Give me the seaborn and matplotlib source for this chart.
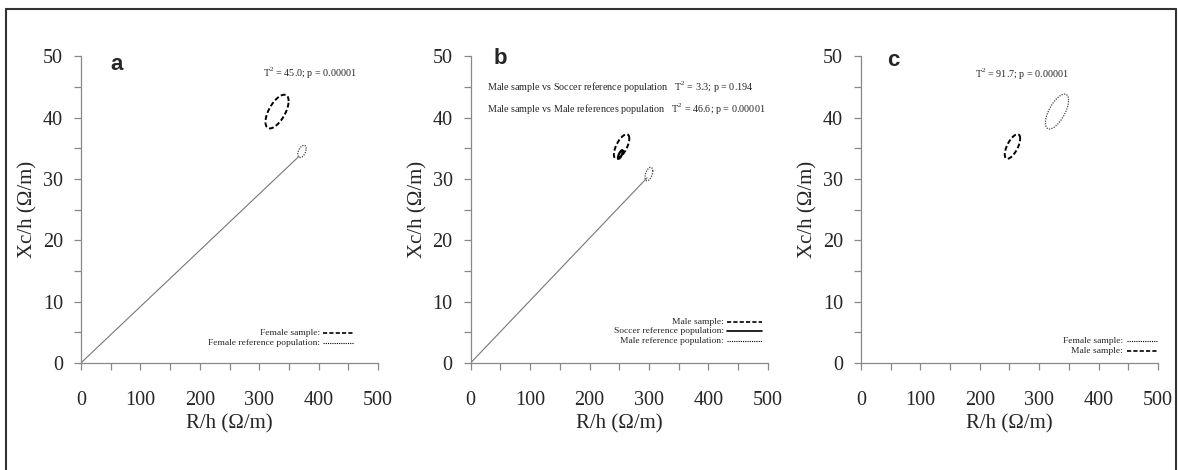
import numpy as np
import pandas as pd
import matplotlib
matplotlib.use("Agg")
import matplotlib.pyplot as plt
from matplotlib.lines import Line2D
from matplotlib.ticker import MultipleLocator
import seaborn as sns

# --- data (R/h, Xc/h in Ohm/m) ---
panels = ["a", "b", "c"]

# ellipse parameters: centre x, centre y, half-range x, half-range y, correlation
ell_names = ["Female sample", "Female reference population",
             "Male sample", "Soccer reference population", "Male reference population",
             "Female sample c", "Male sample c"]
ell_panel = ["a", "a", "b", "b", "b", "c", "c"]
ell_cx = [330, 372, 254, 252, 300, 330, 255]
ell_cy = [41.0, 34.5, 35.3, 34.0, 30.8, 41.0, 35.3]
ell_rx = [19.5, 7.0, 13.0, 4.0, 6.5, 19.5, 13.0]
ell_ry = [2.75, 1.0, 2.0, 0.7, 1.1, 2.85, 2.0]
ell_rho = [0.62, 0.45, 0.65, 0.75, 0.45, 0.65, 0.65]
ell_style = ["dashed", "dotted", "dashed", "solid", "dotted", "dotted", "dashed"]

# vector from origin to reference population mean
vec_panel = ["a", "b"]
vec_x = [367, 297]
vec_y = [33.7, 30.2]

stats_text = {
    "a": ["T$^2$ = 45.0; p = 0.00001"],
    "b": ["Male sample vs Soccer reference population   T$^2$ = 3.3; p = 0.194",
          "Male sample vs Male references population   T$^2$ = 46.6; p = 0.00001"],
    "c": ["T$^2$ = 91.7; p = 0.00001"],
}
legend_labels = {
    "a": ["Female sample:", "Female reference population:"],
    "b": ["Male sample:", "Soccer reference population:", "Male reference population:"],
    "c": ["Female sample:", "Male sample:"],
}
legend_styles = {
    "a": ["dashed", "dotted"],
    "b": ["dashed", "solid", "dotted"],
    "c": ["dotted", "dashed"],
}

# --- layout ---
sns.set_style("white")
plt.rcParams["font.family"] = ["Liberation Serif", "DejaVu Serif"]
plt.rcParams["mathtext.fontset"] = "custom"
plt.rcParams["mathtext.rm"] = "Liberation Serif"

fig = plt.figure(figsize=(11.78, 4.70), dpi=100)
lefts = [0.0688, 0.3996, 0.7309]
W, H, B = 0.2521, 0.652, 0.228

ls_map = {"dashed": (0, (2.5, 1.3)), "dotted": (0, (1, 1)), "solid": "-"}
lw_map = {"dashed": 1.4, "dotted": 0.9, "solid": 1.6}
col_map = {"dashed": "black", "dotted": "#444444", "solid": "black"}

letter_pos = {"a": (49, 48.7), "b": (39, 49.7), "c": (44, 49.3)}
stats_pos = {"a": [(385, 47.2)], "b": [(27.5, 44.9), (27.5, 41.3)], "c": [(271, 47.0)]}
stats_ha = {"a": "center", "b": "left", "c": "center"}
leg_right = {"a": 403, "b": 426, "c": 441}
leg_line = {"a": (407, 458), "b": (432, 490), "c": (448, 498)}
leg_y = {"a": [4.9, 3.3], "b": [6.7, 5.2, 3.6], "c": [3.6, 2.0]}

t = np.linspace(0, 2 * np.pi, 200)

for p, left in zip(panels, lefts):
    ax = fig.add_axes([left, B, W, H])

    for i in range(len(ell_names)):
        if ell_panel[i] != p:
            continue
        ex = ell_cx[i] + ell_rx[i] * np.cos(t)
        ey = ell_cy[i] + ell_ry[i] * (ell_rho[i] * np.cos(t) + np.sqrt(1 - ell_rho[i] ** 2) * np.sin(t))
        df = pd.DataFrame({"x": ex, "y": ey})
        st = ell_style[i]
        sns.lineplot(data=df, x="x", y="y", sort=False, ax=ax, color=col_map[st],
                     linewidth=lw_map[st], linestyle=ls_map[st], estimator=None)

    for j in range(len(vec_panel)):
        if vec_panel[j] == p:
            sns.lineplot(x=[0, vec_x[j]], y=[0, vec_y[j]], ax=ax, color="#777777",
                         linewidth=0.8, estimator=None)

    ax.set_xlim(0, 500)
    ax.set_ylim(0, 50)
    ax.xaxis.set_major_locator(MultipleLocator(100))
    ax.xaxis.set_minor_locator(MultipleLocator(50))
    ax.yaxis.set_major_locator(MultipleLocator(10))
    ax.yaxis.set_minor_locator(MultipleLocator(5))
    ax.tick_params(which="both", direction="out", length=5, width=0.9, color="#888888",
                   bottom=True, left=True)
    ax.tick_params(axis="x", which="major", pad=15, labelsize=14.5)
    ax.tick_params(axis="y", which="major", pad=8, labelsize=14.5)
    sns.despine(ax=ax)
    for s in ["left", "bottom"]:
        ax.spines[s].set_color("#888888")
        ax.spines[s].set_linewidth(0.9)
    ax.set_xlabel("R/h (\u03a9/m)", fontsize=15, labelpad=3)
    ax.set_ylabel("Xc/h (\u03a9/m)", fontsize=15, labelpad=4)
    ax.patch.set_alpha(0)

    lx, ly = letter_pos[p]
    ax.text(lx, ly, p, fontsize=16, fontweight="bold", family="Liberation Sans",
            va="center", ha="left")

    for txt, (sx, sy) in zip(stats_text[p], stats_pos[p]):
        ax.text(sx, sy, txt, fontsize=7.3, ha=stats_ha[p], va="center")

    x0, x1 = leg_line[p]
    for lab, st, yy in zip(legend_labels[p], legend_styles[p], leg_y[p]):
        ax.text(leg_right[p], yy, lab, fontsize=6.8, ha="right", va="center")
        ax.plot([x0, x1], [yy, yy], color="black", linestyle=ls_map[st],
                linewidth=1.2 if st != "dotted" else 0.8)

# outer frame (open at bottom)
fx0, fx1, fy1 = 6 / 1178, 1176 / 1178, 1 - 9 / 470
for xs, ys in [([fx0, fx0], [0, fy1]), ([fx0, fx1], [fy1, fy1]), ([fx1, fx1], [fy1, 0])]:
    fig.add_artist(Line2D(xs, ys, transform=fig.transFigure, color="#333333", linewidth=1.5))

fig.savefig("out.png", dpi=100)
